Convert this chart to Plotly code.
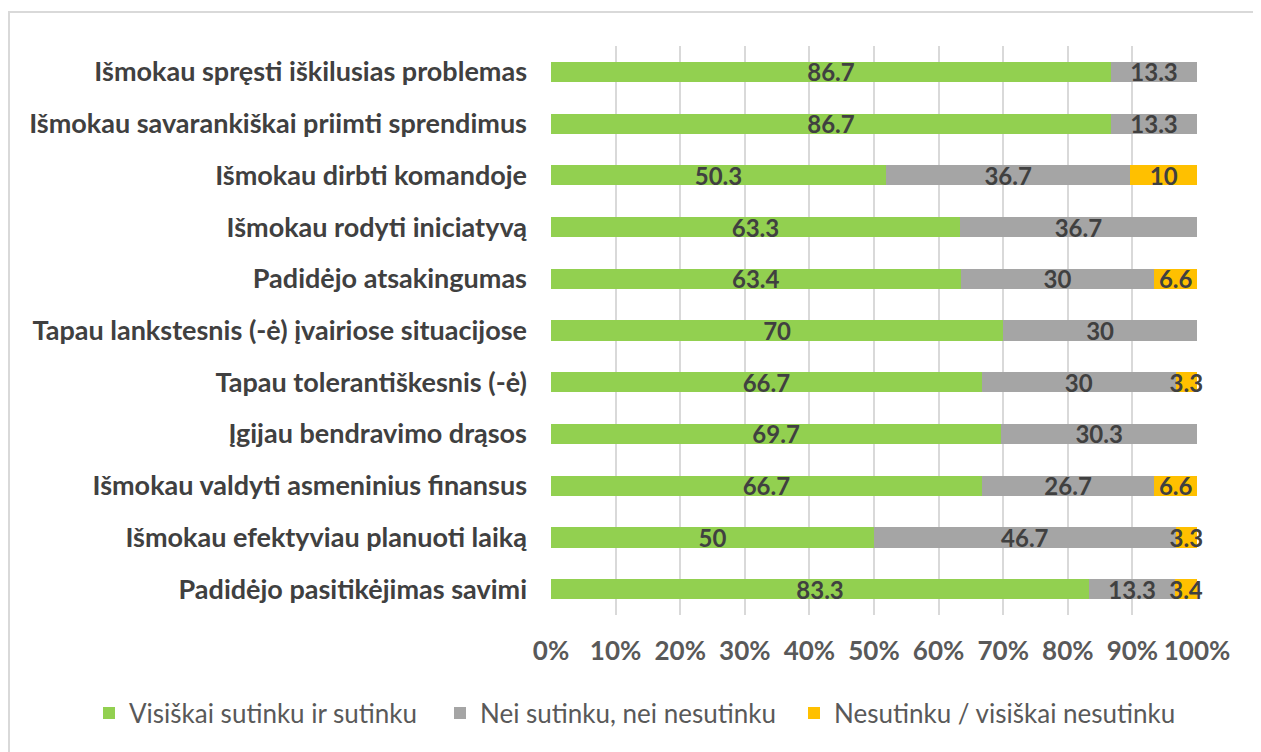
import plotly.graph_objects as go

categories = [
    "Išmokau spręsti iškilusias problemas",
    "Išmokau savarankiškai priimti sprendimus",
    "Išmokau dirbti komandoje",
    "Išmokau rodyti iniciatyvą",
    "Padidėjo atsakingumas",
    "Tapau lankstesnis (-ė) įvairiose situacijose",
    "Tapau tolerantiškesnis (-ė)",
    "Įgijau bendravimo drąsos",
    "Išmokau valdyti asmeninius finansus",
    "Išmokau efektyviau planuoti laiką",
    "Padidėjo pasitikėjimas savimi",
]
agree = [86.7, 86.7, 50.3, 63.3, 63.4, 70, 66.7, 69.7, 66.7, 50, 83.3]
neutral = [13.3, 13.3, 36.7, 36.7, 30, 30, 30, 30.3, 26.7, 46.7, 13.3]
disagree = [None, None, 10, None, 6.6, None, 3.3, None, 6.6, 3.3, 3.4]

series_names = [
    "Visiškai sutinku ir sutinku",
    "Nei sutinku, nei nesutinku",
    "Nesutinku / visiškai nesutinku",
]
colors = ["#92D050", "#A5A5A5", "#FFC000"]
tick_vals = [0, 10, 20, 30, 40, 50, 60, 70, 80, 90, 100]
tick_text = [f"{v}%" for v in tick_vals]

FONT = "Lato"

# page has an 8px body margin; work in page coordinates and convert
OFF = 8
W, H = 1261 - OFF, 752 - OFF
ml, mt = 551 - OFF, 46 - OFF
plot_right, plot_bottom = 1197 - OFF, 615 - OFF
mr, mb = W - plot_right, H - plot_bottom
pw, ph = plot_right - ml, plot_bottom - mt

def px(x):
    return (x - OFF - ml) / pw

def py(y):
    return 1 - (y - OFF - mt) / ph

legend_ids = ["legend", "legend2", "legend3"]
legend_x_page = [89, 440, 794]

fig = go.Figure()
for name, vals, col, lg in zip(series_names, [agree, neutral, disagree], colors, legend_ids):
    fig.add_trace(go.Bar(
        y=categories,
        x=vals,
        name=name,
        orientation="h",
        legend=lg,
        marker=dict(color=col, line=dict(width=0)),
        text=[("" if v is None else f"{v:g}") for v in vals],
        texttemplate="%{text}",
        textposition="inside",
        insidetextanchor="middle",
        constraintext="none",
        cliponaxis=False,
        textangle=0,
        textfont=dict(family=FONT, size=24, color="#404040", weight="bold"),
        hoverinfo="skip",
    ))

legend_style = dict(
    orientation="h",
    xanchor="left",
    y=py(713), yanchor="middle",
    font=dict(family=FONT, size=26, color="#595959"),
    itemwidth=30,
    bgcolor="rgba(0,0,0,0)",
)

fig.update_layout(
    width=W, height=H,
    barmode="stack",
    barnorm="percent",
    bargap=0.61,
    margin=dict(l=ml, r=mr, t=mt, b=mb, autoexpand=False),
    paper_bgcolor="white",
    plot_bgcolor="white",
    showlegend=True,
    legend=dict(x=px(legend_x_page[0]), **legend_style),
    legend2=dict(x=px(legend_x_page[1]), **legend_style),
    legend3=dict(x=px(legend_x_page[2]), **legend_style),
    shapes=[dict(
        type="rect", xref="paper", yref="paper",
        x0=px(9), x1=px(1400), y0=py(900), y1=py(12),
        line=dict(color="#D9D9D9", width=2), fillcolor="rgba(0,0,0,0)",
        layer="below",
    )],
)
fig.update_xaxes(
    range=[0, 100],
    tickvals=tick_vals, ticktext=tick_text,
    showgrid=True, gridcolor="#D9D9D9", gridwidth=1.5,
    zeroline=False, showline=False,
    ticks="", ticklabelstandoff=18,
    tickfont=dict(family=FONT, size=26, color="#595959", weight="bold"),
    fixedrange=True,
)
fig.update_yaxes(
    categoryorder="array", categoryarray=categories,
    autorange="reversed",
    showgrid=False, showline=False, zeroline=False,
    ticks="", ticklabelstandoff=23,
    tickfont=dict(family=FONT, size=27, color="#404040", weight="bold"),
    fixedrange=True,
)

fig.write_html("out.html")
